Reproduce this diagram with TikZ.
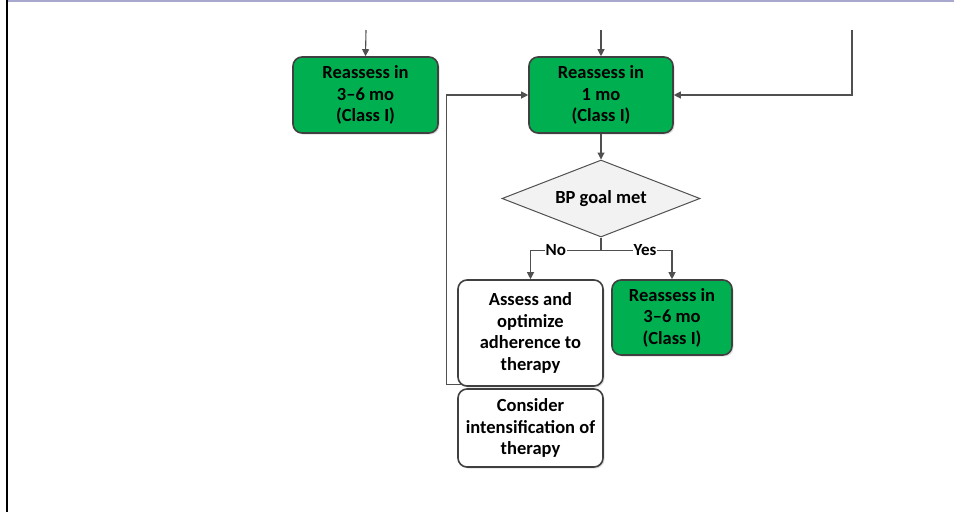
\documentclass[tikz,border=0pt]{standalone}
\usepackage{fontspec}
\setmainfont{Carlito}
\usetikzlibrary{shapes.geometric,shadows,arrows.meta,calc}
\definecolor{boxgreen}{HTML}{00B050}
\definecolor{edgegray}{HTML}{404040}
\definecolor{linegray}{HTML}{505050}
\definecolor{topline}{HTML}{A8A8CE}
\definecolor{goalfill}{HTML}{F2F2F2}

\begin{document}
\begin{tikzpicture}[x=1pt,y=-1pt,
  greenbox/.style={draw=edgegray,line width=1.6pt,rounded corners=9pt,fill=boxgreen,
    minimum width=145pt,minimum height=76pt,align=center,inner sep=1pt,
    font=\fontsize{18.5}{21.5}\selectfont\bfseries,
    drop shadow={shadow xshift=1.5pt,shadow yshift=-1.5pt,opacity=0.25}},
  whitebox/.style={greenbox,fill=white},
  goal/.style={diamond,draw=linegray,line width=1pt,fill=goalfill,inner sep=0pt,
    shape aspect=2.57,minimum width=198pt,minimum height=77pt,
    font=\fontsize{18.5}{21}\selectfont\bfseries},
  flow/.style={draw=linegray,line width=1.1pt,-{Triangle[length=7pt,width=7pt]}},
  branch/.style={fill=white,inner sep=1pt,font=\fontsize{17}{19}\selectfont\bfseries}]
\useasboundingbox (0,0) rectangle (954,512);
% Frame
\draw[topline,line width=2pt] (8,1) -- (954,1);
\draw[black,line width=2pt] (7,0) -- (7,512);

% Boxes
\node[greenbox] (reassessA) at (365.5,95) {Reassess in\\3--6 mo\\(Class I)};
\node[greenbox,minimum width=144pt] (reassessB) at (601,95) {Reassess in\\1 mo\\(Class I)};
\node[goal] (bpgoal) at (601,198.5) {BP goal met};
\node[whitebox,minimum height=106pt] (adhere) at (530.5,333) {Assess and\\optimize\\adherence to\\therapy};
\node[greenbox,minimum width=120pt,minimum height=75pt] (reassessC) at (672,317.5) {Reassess in\\3--6 mo\\(Class I)};
\node[whitebox,minimum height=78pt] (intensify) at (530.5,428) {Consider\\intensification of\\therapy};

% Connectors
\coordinate (inA) at (366,30);
\coordinate (inB) at (601,30);
\coordinate (inR) at (852,30);
\draw[flow] (inA) -- (reassessA.north);
\draw[flow] (inB) -- (reassessB.north);
\draw[flow] (inR) |- (reassessB.east);
\draw[flow] (reassessB.south) -- (bpgoal.north);
\coordinate (split) at ($(bpgoal.south)+(0,13)$);
\draw[linegray,line width=1.1pt] (bpgoal.south) -- (split);
\draw[flow] (split) -| node[branch,pos=0.32] {No} (adhere.north);
\draw[flow] (split) -| node[branch,pos=0.31] {Yes} (reassessC.north);
\coordinate (loopout) at ($(adhere.south west)+(4,-2)$);
\draw[flow] (loopout) -- ++(-15,0) |- (reassessB.west);
\end{tikzpicture}
\end{document}
